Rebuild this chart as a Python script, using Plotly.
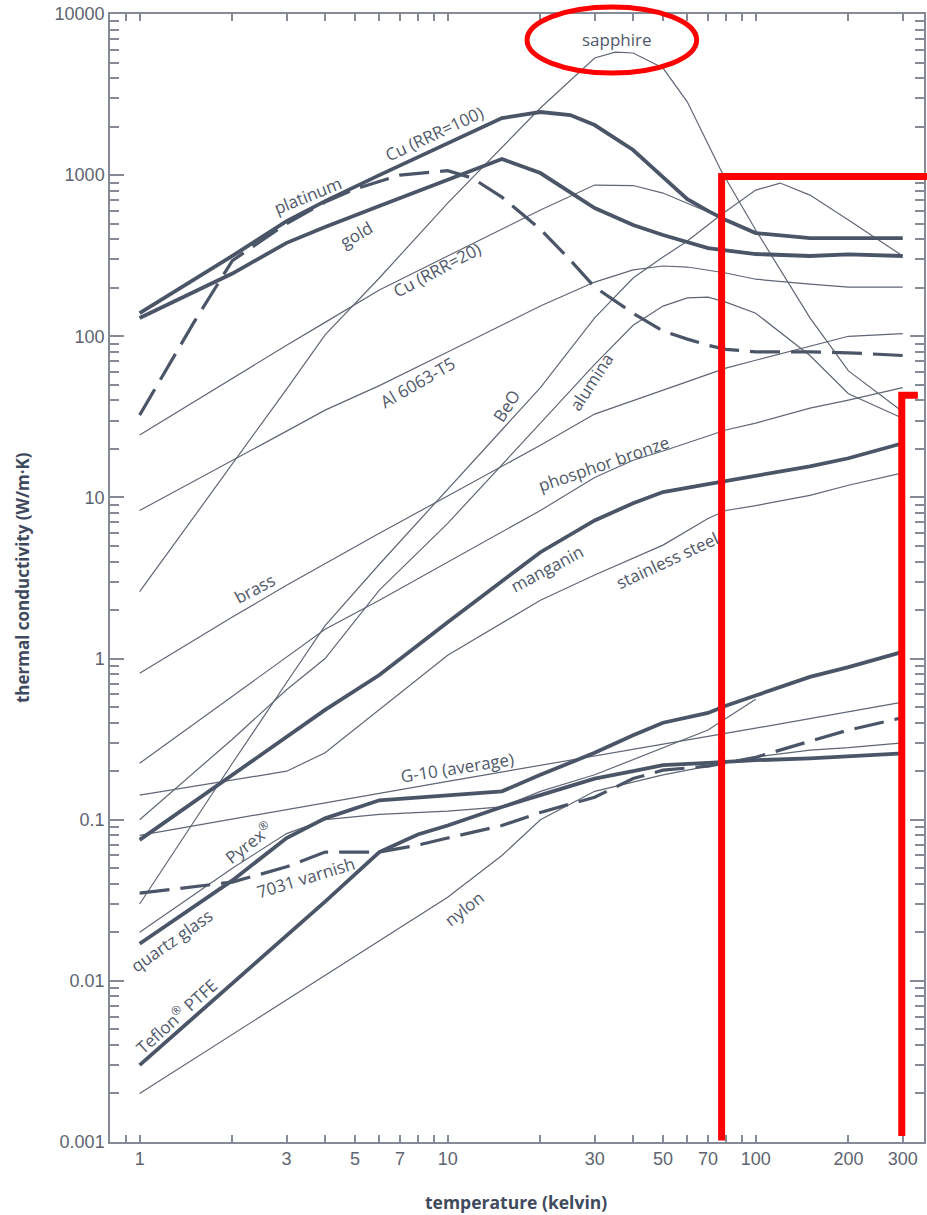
import math
import plotly.graph_objects as go

# ---------------- data (temperature K, thermal conductivity W/m·K) ----------------
T_sapphire = [1, 2, 3, 4, 6, 10, 15, 20, 30, 35, 40, 50, 60, 70, 77, 100, 150, 200, 300]
k_sapphire = [2.6, 16, 47, 102, 230, 671, 1494, 2610, 5330, 5800, 5730, 4620, 2840, 1560, 1075, 457, 130, 61, 34]

T_cu100 = [1, 2, 3, 4, 6, 10, 15, 20, 25, 30, 40, 50, 60, 70, 80, 100, 150, 200, 300]
k_cu100 = [139, 315, 519, 690, 1000, 1585, 2260, 2465, 2360, 2046, 1432, 973, 710, 600, 526, 437, 407, 407, 407]

T_gold = [1, 2, 3, 4, 6, 8, 10, 12, 15, 20, 25, 30, 40, 50, 70, 100, 150, 200, 300]
k_gold = [130, 245, 380, 476, 643, 797, 933, 1076, 1260, 1030, 785, 625, 490, 425, 353, 324, 315, 322, 315]

T_platinum = [1, 1.5, 2, 3, 4, 5, 7, 10, 12, 15, 20, 25, 30, 40, 50, 60, 70, 80, 100, 150, 200, 300]
k_platinum = [32.4, 122, 295, 500, 680, 820, 1000, 1065, 960, 731, 461, 297, 202, 139, 108, 96, 88, 83, 80, 80, 79, 76]

T_cu20 = [1, 2, 3, 4, 6, 10, 15, 20, 30, 40, 50, 60, 70, 80, 100, 150, 200, 300]
k_cu20 = [24.4, 55, 88, 122, 194, 315, 463, 607, 868, 862, 774, 671, 590, 526, 437, 407, 407, 407]

T_al6063 = [1, 2, 3, 4, 6, 10, 20, 30, 40, 50, 60, 80, 100, 150, 200, 300]
k_al6063 = [8.3, 17.1, 25.8, 34.8, 49.4, 79.8, 154, 217, 258, 273, 269, 247, 226, 211, 202, 202]

T_beo = [1, 2, 3, 4, 6, 10, 20, 30, 40, 50, 60, 77, 100, 120, 150, 200, 300]
k_beo = [0.030, 0.224, 0.71, 1.6, 3.85, 11.3, 48, 130, 230, 310, 390, 565, 808, 893, 752, 526, 315]

T_alumina = [1, 2, 3, 4, 6, 10, 20, 30, 40, 50, 60, 70, 80, 100, 150, 200, 300]
k_alumina = [0.1, 0.316, 0.64, 1.0, 2.66, 6.9, 28.9, 67, 117, 154, 173, 175, 163, 139, 76, 44, 31]

T_brass = [1, 2, 3, 4, 6, 10, 20, 30, 50, 80, 100, 150, 200, 300]
k_brass = [0.81, 1.81, 2.85, 3.9, 6.0, 10.2, 21.1, 32.9, 46.3, 63.5, 71, 87, 100, 104]

T_phbronze = [1, 2, 3, 4, 6, 10, 20, 30, 40, 50, 80, 100, 150, 200, 300]
k_phbronze = [0.224, 0.58, 1.02, 1.52, 2.3, 3.96, 8.3, 13.3, 17.0, 19.4, 26.2, 28.9, 35.8, 40.2, 48]

T_manganin = [1, 2, 3, 4, 6, 10, 20, 30, 40, 50, 70, 100, 150, 200, 300]
k_manganin = [0.075, 0.19, 0.33, 0.48, 0.79, 1.68, 4.57, 7.2, 9.2, 10.8, 12.1, 13.7, 15.6, 17.5, 21.7]

T_stainless = [1, 2, 3, 4, 6, 10, 20, 30, 50, 70, 80, 100, 150, 200, 300]
k_stainless = [0.142, 0.176, 0.2, 0.26, 0.48, 1.05, 2.3, 3.3, 5.06, 7.4, 8.3, 8.9, 10.3, 11.9, 14.2]

T_g10 = [1, 10, 100, 300]
k_g10 = [0.080, 0.173, 0.37, 0.537]

T_quartz = [1, 2, 3, 4, 6, 10, 15, 20, 30, 40, 50, 70, 80, 100, 150, 200, 300]
k_quartz = [0.017, 0.042, 0.077, 0.102, 0.132, 0.142, 0.15, 0.19, 0.26, 0.334, 0.40, 0.46, 0.51, 0.59, 0.77, 0.885, 1.1]

T_pyrex = [1, 2, 3, 4, 6, 10, 15, 20, 30, 50, 70, 100]
k_pyrex = [0.020, 0.05, 0.082, 0.1, 0.108, 0.113, 0.12, 0.15, 0.19, 0.28, 0.36, 0.56]

T_varnish = [1, 2, 3, 4, 6, 8, 10, 15, 20, 30, 40, 50, 70, 100, 150, 200, 300]
k_varnish = [0.035, 0.041, 0.051, 0.063, 0.063, 0.0695, 0.077, 0.092, 0.111, 0.138, 0.18, 0.203, 0.215, 0.244, 0.307, 0.36, 0.43]

T_teflon = [1, 2, 3, 4, 6, 8, 10, 15, 20, 30, 40, 50, 70, 100, 150, 200, 300]
k_teflon = [0.003, 0.0096, 0.019, 0.031, 0.063, 0.081, 0.092, 0.12, 0.142, 0.18, 0.2, 0.218, 0.225, 0.234, 0.24, 0.247, 0.258]

T_nylon = [1, 3, 10, 15, 20, 30, 50, 100, 150, 200, 300]
k_nylon = [0.002, 0.0076, 0.033, 0.06, 0.1, 0.15, 0.19, 0.245, 0.27, 0.28, 0.30]

# curve labels: text, temperature, conductivity, angle
label_text = ["sapphire", "Cu (RRR=100)", "platinum", "gold", "Cu (RRR=20)", "Al 6063-T5",
              "BeO", "alumina", "phosphor bronze", "brass", "manganin", "stainless steel",
              "G-10 (average)", "Pyrex<sup>®</sup>", "7031 varnish", "quartz glass",
              "Teflon<sup>®</sup> PTFE", "nylon"]
label_T = [35.4, 9.04, 3.51, 5.05, 9.25, 7.96, 15.5, 29.1, 32.1, 2.36, 21.0, 51.4, 10.7, 2.24, 3.46, 1.27, 1.31, 11.3]
label_k = [6995, 1825, 752, 431, 258, 52, 37.4, 52, 16.3, 2.73, 3.64, 4.08, 0.212, 0.0725, 0.044, 0.0179, 0.0061, 0.0282]
label_angle = [0, -25, -22, -30, -28, -30, -57, -57, -19, -28, -28, -25, -9, -38, -17, -35, -42, -38]

x_tickvals = [1, 3, 5, 7, 10, 30, 50, 70, 100, 200, 300]
x_minor = [0.9, 2, 4, 6, 8, 9, 20, 40, 60, 80, 90]
x_long = [1, 10, 100]
y_tickvals = [0.001, 0.01, 0.1, 1, 10, 100, 1000, 10000]
y_ticktext = ["0.001", "0.01", "0.1", "1", "10", "100", "1000", "10000"]

# ---------------- styling ----------------
XR = [-0.0962, 2.5463]
YR = [-3, 4]
THICK_C = "#4b5568"
THIN_C = "#5f6675"
AX_C = "#858a96"
LBL_C = "#4f5869"

def fx(T):
    return (math.log10(T) - XR[0]) / (XR[1] - XR[0])

def fy(k):
    return (math.log10(k) - YR[0]) / (YR[1] - YR[0])

fig = go.Figure()

thin = [(T_sapphire, k_sapphire), (T_cu20, k_cu20), (T_al6063, k_al6063), (T_beo, k_beo),
        (T_alumina, k_alumina), (T_brass, k_brass), (T_phbronze, k_phbronze),
        (T_stainless, k_stainless), (T_g10, k_g10), (T_pyrex, k_pyrex), (T_nylon, k_nylon)]
for T, k in thin:
    fig.add_trace(go.Scatter(x=T, y=k, mode="lines", line=dict(color=THIN_C, width=1.2),
                             hoverinfo="skip"))

thick = [(T_cu100, k_cu100), (T_gold, k_gold), (T_manganin, k_manganin),
         (T_quartz, k_quartz), (T_teflon, k_teflon)]
for T, k in thick:
    fig.add_trace(go.Scatter(x=T, y=k, mode="lines", line=dict(color=THICK_C, width=3.8),
                             hoverinfo="skip"))

for T, k in [(T_platinum, k_platinum), (T_varnish, k_varnish)]:
    fig.add_trace(go.Scatter(x=T, y=k, mode="lines",
                             line=dict(color=THICK_C, width=3.2, dash="30px,11px"),
                             hoverinfo="skip"))

for txt, T, k, a in zip(label_text, label_T, label_k, label_angle):
    fig.add_annotation(x=fx(T), y=fy(k), xref="paper", yref="paper", text=txt,
                       xanchor="center", yanchor="middle",
                       showarrow=False, textangle=a,
                       font=dict(family="Open Sans", size=17, color=LBL_C))

# red highlight marks
RED = "#ff0000"
fig.add_shape(type="circle", xref="paper", yref="paper",
              x0=fx(18.1), x1=fx(64.3), y0=fy(4300), y1=fy(11050),
              line=dict(color=RED, width=5))
fig.add_shape(type="path", xref="paper", yref="paper",
              path=f"M {fx(77.5)},{fy(0.00102)} L {fx(77.5)},{fy(980)} L 1.005,{fy(980)}",
              line=dict(color=RED, width=7))
fig.add_shape(type="path", xref="paper", yref="paper",
              path=f"M {fx(298)},{fy(0.00109)} L {fx(298)},{fy(43)} L {fx(336)},{fy(43)}",
              line=dict(color=RED, width=7))

tickfont = dict(family="Liberation Sans", size=18, color="#5d6470")

fig.update_layout(
    width=927, height=1215,
    margin=dict(l=110, r=1, t=14, b=73),
    paper_bgcolor="white", plot_bgcolor="white",
    showlegend=False,
    xaxis=dict(type="log", range=XR, showgrid=False, zeroline=False,
               tickvals=x_tickvals, ticktext=[str(v) for v in x_tickvals],
               ticks="inside", ticklen=7, tickwidth=1.5, tickcolor=AX_C,
               showline=True, linecolor=AX_C, linewidth=1.5, mirror="ticks",
               tickfont=tickfont,
               minor=dict(tickvals=x_minor, ticks="inside", ticklen=7, tickwidth=1.5,
                          tickcolor=AX_C, showgrid=False)),
    xaxis2=dict(type="log", range=XR, overlaying="x", anchor="y", side="bottom",
                showgrid=False, zeroline=False, tickvals=x_long, showticklabels=False,
                ticks="inside", ticklen=14, tickwidth=1.8, tickcolor=AX_C,
                showline=False, mirror="ticks"),
    yaxis=dict(type="log", range=YR, showgrid=False, zeroline=False,
               tickvals=y_tickvals, ticktext=y_ticktext,
               ticks="inside", ticklen=14, tickwidth=1.8, tickcolor=AX_C,
               showline=True, linecolor=AX_C, linewidth=1.5, mirror="ticks",
               tickfont=tickfont,
               minor=dict(tickvals=[m * 10 ** e for e in range(-3, 4) for m in range(2, 10)],
                          ticks="inside", ticklen=9, tickwidth=1.5, tickcolor=AX_C,
                          showgrid=False)),
)

fig.add_annotation(x=-0.108, y=0.5, xref="paper", yref="paper", showarrow=False,
                   xanchor="center", yanchor="middle",
                   text="<b>thermal conductivity (W/m·K)</b>", textangle=-90,
                   font=dict(family="Open Sans", size=17, color="#3f4a5e"))
fig.add_annotation(x=0.4988, y=-0.0535, xref="paper", yref="paper", showarrow=False,
                   xanchor="center", yanchor="middle",
                   text="<b>temperature (kelvin)</b>",
                   font=dict(family="Open Sans", size=17.5, color="#3f4a5e"))

fig.write_html("out.html", config={"displayModeBar": False},
               post_script="document.body.style.margin='0';")
